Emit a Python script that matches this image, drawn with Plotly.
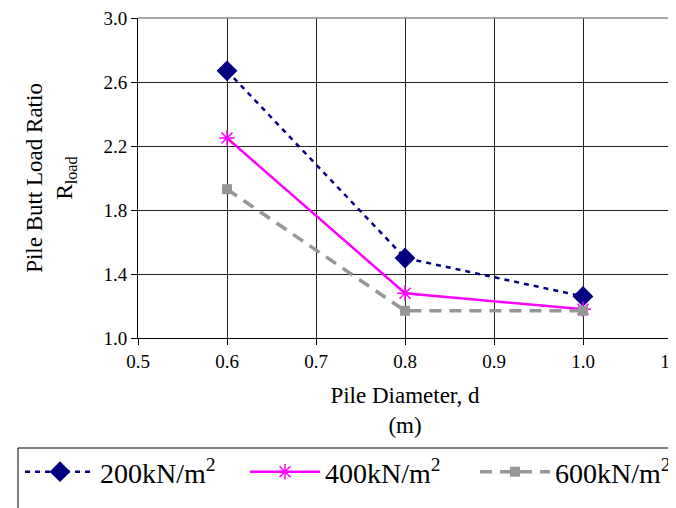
import plotly.graph_objects as go

diameter = [0.6, 0.8, 1.0]
ratio_200 = [2.67, 1.50, 1.26]
ratio_400 = [2.25, 1.28, 1.18]
ratio_600 = [1.93, 1.17, 1.17]
series_names = ["200kN/m<sup>2</sup>", "400kN/m<sup>2</sup>", "600kN/m<sup>2</sup>"]

FONT = "Liberation Serif, Times New Roman, serif"

fig = go.Figure()
fig.add_trace(go.Scatter(
    x=diameter, y=ratio_200, name=series_names[0], mode="lines+markers",
    line=dict(color="#000080", width=2.5, dash="5px,5px"),
    marker=dict(symbol="diamond", size=16, color="#000080"),
    legend="legend",
))
fig.add_trace(go.Scatter(
    x=diameter, y=ratio_400, name=series_names[1], mode="lines+markers",
    line=dict(color="#FF00FF", width=2.5),
    marker=dict(symbol="asterisk-open", size=13, line=dict(color="#FF00FF", width=1.5)),
    legend="legend2",
))
fig.add_trace(go.Scatter(
    x=diameter, y=ratio_600, name=series_names[2], mode="lines+markers",
    line=dict(color="#969696", width=3.5, dash="12px,8px"),
    marker=dict(symbol="square", size=10, color="#969696"),
    legend="legend3",
))

legend_y = (330 - 464) / 320


def legend_at(px):
    return dict(
        orientation="h", xref="paper", x=(px - 130) / 534, xanchor="left",
        y=legend_y, yanchor="middle",
        borderwidth=0, bgcolor="rgba(0,0,0,0)",
        font=dict(family=FONT, size=28, color="black"),
        itemwidth=70,
    )


fig.update_layout(
    width=676, height=508,
    margin=dict(l=130, r=12, t=10, b=178, autoexpand=False),
    paper_bgcolor="white", plot_bgcolor="white",
    font=dict(family=FONT, size=19, color="black"),
    showlegend=True,
    legend=legend_at(12),
    legend2=legend_at(237),
    legend3=legend_at(467),
)
fig.update_xaxes(
    range=[0.5, 1.1], dtick=0.1, tick0=0.5, tickformat=".1f",
    showgrid=True, gridcolor="#222222", gridwidth=1,
    showline=True, linecolor="black", linewidth=1, mirror=False,
    ticks="outside", ticklen=6, tickcolor="black",
    zeroline=False, automargin=False, ticklabeloverflow="allow",
    title=dict(text="Pile Diameter, d<br>(m)", font=dict(size=23), standoff=16),
    tickfont=dict(size=19),
)
fig.update_yaxes(
    range=[1.0, 3.0], dtick=0.4, tick0=1.0, tickformat=".1f",
    showgrid=True, gridcolor="#222222", gridwidth=1,
    showline=True, linecolor="black", linewidth=1,
    ticks="outside", ticklen=6, tickcolor="black",
    zeroline=False, automargin=False, ticklabeloverflow="allow",
    title=dict(text="Pile Butt Load Ratio<br>R<sub>load</sub>", font=dict(size=23), standoff=24),
    tickfont=dict(size=19),
)
# top border in grey and right edge line
fig.add_shape(type="line", xref="paper", yref="paper", x0=0, x1=1, y0=1, y1=1,
              line=dict(color="#888888", width=1.5))
fig.add_shape(type="line", xref="paper", yref="paper", x0=1, x1=1, y0=0, y1=1,
              line=dict(color="#666666", width=1))
# legend frame
fig.add_shape(type="rect", xref="paper", yref="paper",
              x0=(10 - 130) / 534, x1=(690 - 130) / 534,
              y0=(330 - 440) / 320, y1=(330 - 520) / 320,
              line=dict(color="black", width=1))

fig.write_html("out.html")
